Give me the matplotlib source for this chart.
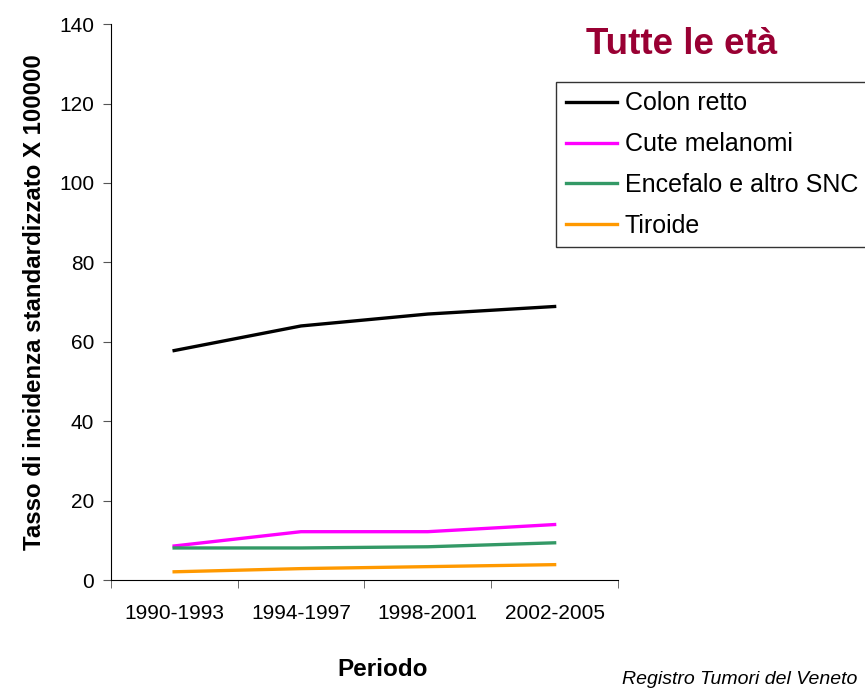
import numpy as np
import matplotlib.pyplot as plt

plt.rcParams['font.family'] = ['Liberation Sans', 'DejaVu Sans']

# data
periodi = ["1990-1993", "1994-1997", "1998-2001", "2002-2005"]
colon_retto = [57.8, 64.0, 67.0, 68.9]
cute_melanomi = [8.6, 12.2, 12.2, 14.0]
encefalo_snc = [8.1, 8.1, 8.4, 9.4]
tiroide = [2.1, 2.9, 3.4, 3.9]

fig = plt.figure(figsize=(8.65, 6.89), dpi=100)
ax = fig.add_axes([0.128, 0.158, 0.5865, 0.807])

x = np.arange(len(periodi))
lw = 2.4
ax.plot(x, colon_retto, color='black', lw=lw, label='Colon retto')
ax.plot(x, cute_melanomi, color='#FF00FF', lw=lw, label='Cute melanomi')
ax.plot(x, encefalo_snc, color='#339966', lw=lw, label='Encefalo e altro SNC')
ax.plot(x, tiroide, color='#FF9900', lw=lw, label='Tiroide')

ax.set_xlim(-0.5, len(periodi) - 0.5)
ax.set_ylim(0, 140)
ax.set_yticks(np.arange(0, 141, 20))
ax.set_xticks(x)
ax.set_xticklabels(periodi)
# category boundary ticks like the original
ax.set_xticks(np.arange(-0.5, len(periodi), 1), minor=True)
ax.tick_params(axis='x', which='major', length=0, labelsize=15, pad=17)
ax.tick_params(axis='x', which='minor', length=6, color='#555555', direction='out')
ax.tick_params(axis='y', length=6, color='#555555', labelsize=15, pad=6)

ax.spines['top'].set_visible(False)
ax.spines['right'].set_visible(False)

ax.set_ylabel('Tasso di incidenza standardizzato X 100000', fontsize=17.3,
              fontweight='bold', labelpad=9)
fig.text(383/865, 1 - 670/689, 'Periodo', fontsize=17.5, fontweight='bold',
         ha='center', va='center')

fig.text(682/865, 1 - 45/689, 'Tutte le età', fontsize=26.5, fontweight='bold',
         color='#990033', ha='center', va='center')

leg = fig.legend(loc='upper left', bbox_to_anchor=(556/865, 1 - 82/689),
                 fontsize=18, frameon=True, fancybox=False, edgecolor='black',
                 handlelength=2.05, handletextpad=0.32, labelspacing=0.67,
                 borderpad=0.38, borderaxespad=0)
leg.get_frame().set_linewidth(1.0)

fig.text(622/865, 1 - 679/689, 'Registro Tumori del Veneto', fontsize=14,
         fontstyle='italic', ha='left', va='center')

fig.savefig('out.png', dpi=100)
